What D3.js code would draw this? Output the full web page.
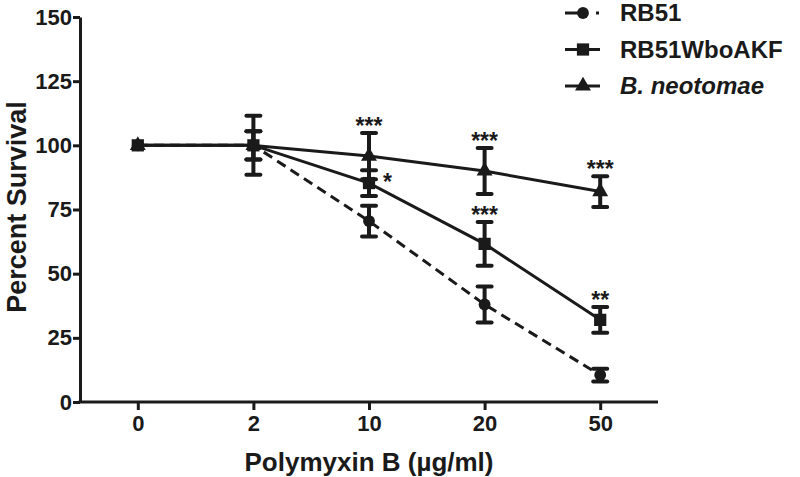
<!DOCTYPE html>
<html>
<head>
<meta charset="utf-8">
<script src="https://cdn.jsdelivr.net/npm/d3@7"></script>
<style>
	body { margin: 0; background: #fff; }
	svg text { font-family: "Liberation Sans", Arial, sans-serif; font-weight: bold; fill: #1a1a1a; }
</style>
</head>
<body>
<svg id="chart" width="800" height="477"></svg>
<script>
// doses on the x axis (categorical)
const doses = ["0", "2", "10", "20", "50"];
const yTicks = [0, 25, 50, 75, 100, 125, 150];

const seriesNames = ["RB51", "RB51WboAKF", "B. neotomae"];
const rb51 = [100, 100, 70.5, 38, 10.5];
const rb51Err = [0, 11.5, 6, 7, 2.5];
const wbo = [100, 100, 85.3, 61.6, 32];
const wboErr = [0, 5.5, 5, 8.5, 5];
const neo = [100, 100, 95.8, 90, 82];
const neoErr = [0, 5.5, 9, 9, 6];

// significance marks: series index, dose, label
const marks = [
	{s: 2, dose: "10", text: "***"},
	{s: 2, dose: "20", text: "***"},
	{s: 2, dose: "50", text: "***"},
	{s: 1, dose: "10", text: "*", side: "right"},
	{s: 1, dose: "20", text: "***"},
	{s: 1, dose: "50", text: "**"}
];

const series = [
	{name: seriesNames[0], vals: rb51, err: rb51Err, shape: d3.symbolCircle, size: 110, dash: "10,6"},
	{name: seriesNames[1], vals: wbo, err: wboErr, shape: d3.symbolSquare, size: 150, dash: null},
	{name: seriesNames[2], vals: neo, err: neoErr, shape: d3.symbolTriangle, size: 110, dash: null}
];

const ink = "#1a1a1a";
const svg = d3.select("#chart");

let x = d3.scalePoint().domain(doses).range([80, 658]).padding(0.5),
	y = d3.scaleLinear().domain([0, 150]).range([402, 17]);

// axes
const gx = svg.append("g")
	.attr("transform", "translate(0,402)")
	.call(d3.axisBottom(x).tickSize(8).tickSizeOuter(0).tickPadding(5));
const gy = svg.append("g")
	.attr("transform", "translate(80,0)")
	.call(d3.axisLeft(y).tickValues(yTicks).tickSize(7).tickSizeOuter(0).tickPadding(1));

[gx, gy].forEach(g => {
	g.selectAll("path, line").attr("stroke", ink).attr("stroke-width", 3);
	g.selectAll("text").attr("font-size", 22).attr("fill", ink)
		.style("font-family", '"Liberation Sans", Arial, sans-serif').style("font-weight", "bold");
});
// let the x axis line meet the y axis cleanly
gx.select(".domain").attr("d", "M78.5,0H658");

svg.append("text")
	.attr("transform", "translate(26,207) rotate(-90)")
	.attr("text-anchor", "middle")
	.attr("font-size", 27)
	.text("Percent Survival");

svg.append("text")
	.attr("x", 369).attr("y", 471)
	.attr("text-anchor", "middle")
	.attr("font-size", 26)
	.text("Polymyxin B (\u00B5g/ml)");

// lines
const line = d3.line().x((d, i) => x(doses[i])).y(d => y(d));
series.forEach(s => {
	svg.append("path")
		.attr("d", line(s.vals))
		.attr("fill", "none")
		.attr("stroke", ink)
		.attr("stroke-width", 3)
		.attr("stroke-dasharray", s.dash);
});

// error bars + markers (circle first, square on top)
[0, 2, 1].forEach(k => {
	const s = series[k];
	const g = svg.append("g");
	s.vals.forEach((v, i) => {
		const cx = x(doses[i]);
		if (s.err[i] > 0) {
			const t = y(v + s.err[i]), b = y(v - s.err[i]);
			g.append("line").attr("x1", cx).attr("x2", cx).attr("y1", t).attr("y2", b)
				.attr("stroke", ink).attr("stroke-width", 4);
			[t, b].forEach(yy => {
				g.append("line").attr("x1", cx - 7).attr("x2", cx + 7).attr("y1", yy).attr("y2", yy)
					.attr("stroke", ink).attr("stroke-width", 4).attr("stroke-linecap", "round");
			});
		}
		g.append("path")
			.attr("d", d3.symbol().type(s.shape).size(s.size)())
			.attr("transform", "translate(" + cx + "," + y(v) + ")")
			.attr("fill", ink);
	});
});

// significance stars
marks.forEach(m => {
	const s = series[m.s], i = doses.indexOf(m.dose);
	const v = s.vals[i], e = s.err[i];
	const t = svg.append("text").attr("font-size", 23).text(m.text);
	if (m.side === "right") {
		t.attr("x", x(m.dose) + 14).attr("y", y(v) + 7).attr("text-anchor", "start");
	} else {
		t.attr("x", x(m.dose)).attr("y", y(v + e) + 1).attr("text-anchor", "middle");
	}
});

// legend
const leg = svg.append("g");
series.forEach((s, i) => {
	const ly = 13 + i * 36.5;
	leg.append("line").attr("x1", 565).attr("x2", 600).attr("y1", ly).attr("y2", ly)
		.attr("stroke", ink).attr("stroke-width", 3)
		.attr("stroke-dasharray", s.dash ? "14,17,3,20" : null);
	leg.append("path")
		.attr("d", d3.symbol().type(s.shape).size(s.size)())
		.attr("transform", "translate(583," + ly + ")")
		.attr("fill", ink);
	const tx = leg.append("text").attr("x", 620).attr("y", ly + 8).attr("font-size", 24);
	if (i === 2) {
		tx.style("font-style", "italic").text(s.name);
	} else {
		tx.text(s.name);
	}
});
</script>
</body>
</html>
